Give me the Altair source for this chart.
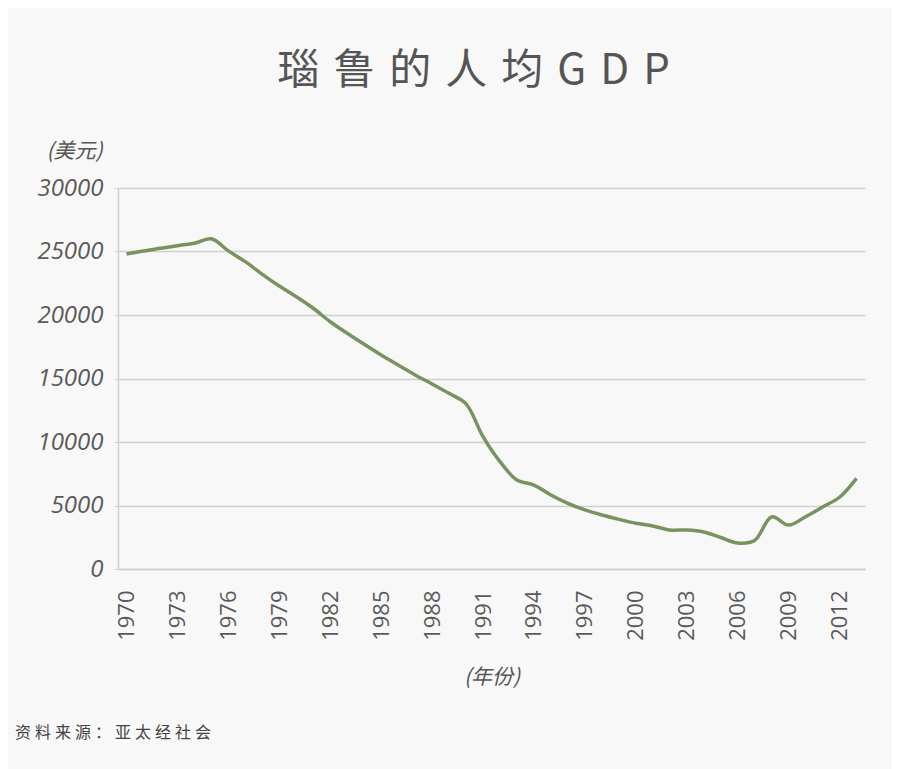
import altair as alt
import pandas as pd

years = list(range(1970, 2014))
gdp = [24800, 25040, 25250, 25460, 25650, 26000, 25050, 24200, 23200, 22280,
       21440, 20530, 19470, 18560, 17690, 16850, 16060, 15280, 14570, 13830,
       13000, 10420, 8450, 7010, 6610, 5830, 5170, 4650, 4250, 3910,
       3600, 3390, 3070, 3070, 2920, 2480, 2050, 2250, 4100, 3460,
       4120, 4880, 5650, 7140]
tick_years = list(range(1970, 2013, 3))
y_ticks = [0, 5000, 10000, 15000, 20000, 25000, 30000]

title_text = "瑙\u2004鲁\u2004的\u2004人\u2004均\u2004G\u2004D\u2004P"
source_text = ["资\u2005料\u2005来\u2005源\u2005：\u2005亚\u2005太\u2005经\u2005社\u2005会"]

df = pd.DataFrame({"year": years, "gdp": gdp})
src = pd.DataFrame({"t": source_text})

FONT = "Open Sans, Noto Sans CJK SC"
CJK = "Noto Sans CJK SC"

line = alt.Chart(df).mark_line(
    color="#789360", strokeWidth=3.5, interpolate="catmull-rom"
).encode(
    x=alt.X("year:Q",
            scale=alt.Scale(domain=[1969.5, 2013.5], nice=False, zero=False),
            axis=alt.Axis(values=tick_years, format="d", labelAngle=-90,
                          labelAlign="right", labelBaseline="middle",
                          labelFontSize=22, labelFont=FONT, labelColor="#5a5a5a",
                          labelPadding=21, ticks=False, grid=False,
                          domainColor="#cfcfcf", domainWidth=1.5,
                          title="(年份)", titleFont=CJK, titleFontSize=21,
                          titleFontStyle="italic",
                          titleFontWeight="normal", titleColor="#555555",
                          titlePadding=26)),
    y=alt.Y("gdp:Q",
            scale=alt.Scale(domain=[0, 30000], nice=False),
            axis=alt.Axis(values=y_ticks, format="d", labelFontSize=24,
                          labelFont=FONT, labelFontStyle="italic",
                          labelColor="#5a5a5a", labelPadding=11,
                          tickSize=4, tickColor="#cfcfcf", gridColor="#cfcfcf",
                          gridWidth=1.5, domainColor="#cfcfcf", domainWidth=1.5,
                          title="(美元)", titleFont=CJK, titleFontSize=21,
                          titleFontStyle="italic",
                          titleFontWeight="normal", titleColor="#555555",
                          titleAngle=0, titleAlign="center", titleBaseline="middle",
                          titleX=-44, titleY=-37)),
)

source = alt.Chart(src).mark_text(
    font=CJK, fontSize=16, color="#444444", align="left", baseline="middle"
).encode(
    text="t:N",
    x=alt.value(-103),
    y=alt.value(545),
)

chart = alt.layer(line, source).properties(
    width=747,
    height=381,
    autosize=alt.AutoSizeParams(type="none"),
    padding={"left": 110, "top": 180, "right": 27, "bottom": 200},
    background="#f8f8f8",
    title=alt.TitleParams(title_text, font=CJK, fontSize=42, fontWeight="normal",
                          color="#555555", anchor="middle", frame="group",
                          dx=-18, offset=47),
).configure_view(stroke=None)

chart.save("out.html", embed_options={"renderer": "svg", "actions": False})
